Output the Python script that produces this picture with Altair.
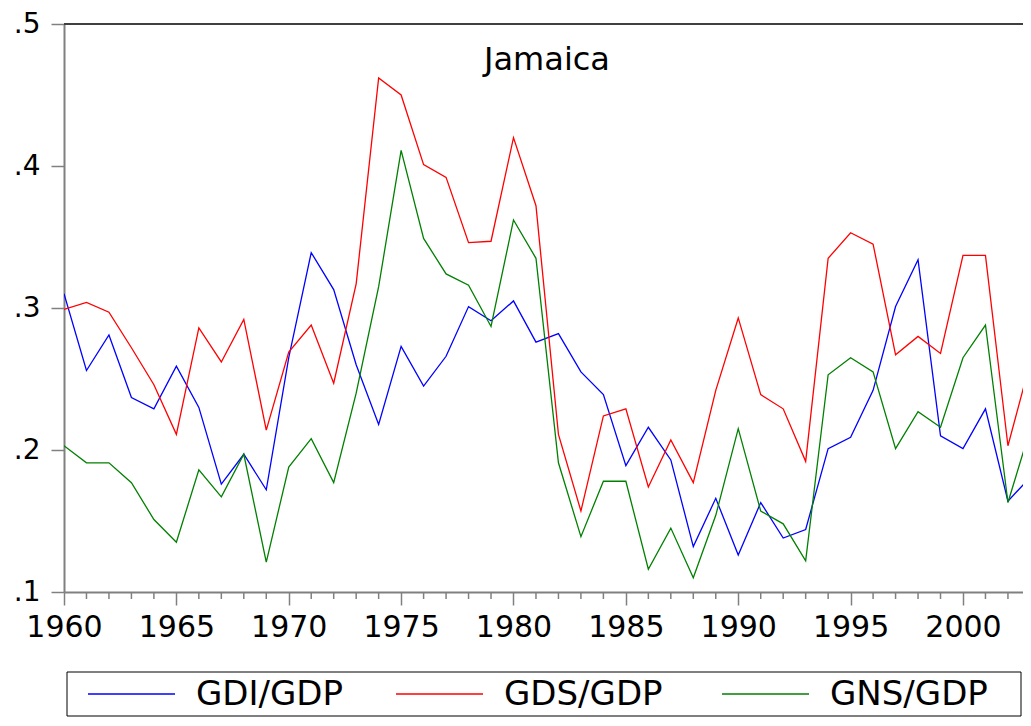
import altair as alt
import pandas as pd

years = list(range(1960, 2004))
gdi_gdp = [0.310, 0.256, 0.281, 0.237, 0.229, 0.259, 0.230, 0.176, 0.197, 0.172,
           0.265, 0.339, 0.313, 0.260, 0.218, 0.273, 0.245, 0.266, 0.301, 0.291,
           0.305, 0.276, 0.282, 0.255, 0.239, 0.189, 0.216, 0.193, 0.132, 0.166,
           0.126, 0.163, 0.138, 0.144, 0.201, 0.209, 0.242, 0.301, 0.334, 0.210,
           0.201, 0.229, 0.164, 0.181]
gds_gdp = [0.299, 0.304, 0.297, 0.272, 0.246, 0.211, 0.286, 0.262, 0.292, 0.214,
           0.269, 0.288, 0.247, 0.317, 0.462, 0.450, 0.401, 0.392, 0.346, 0.347,
           0.420, 0.372, 0.211, 0.157, 0.224, 0.229, 0.174, 0.207, 0.177, 0.242,
           0.293, 0.239, 0.229, 0.192, 0.335, 0.353, 0.345, 0.267, 0.280, 0.268,
           0.337, 0.337, 0.203, 0.262]
gns_gdp = [0.203, 0.191, 0.191, 0.177, 0.151, 0.135, 0.186, 0.167, 0.197, 0.121,
           0.188, 0.208, 0.177, 0.240, 0.315, 0.411, 0.349, 0.324, 0.316, 0.287,
           0.362, 0.335, 0.191, 0.139, 0.178, 0.178, 0.116, 0.145, 0.110, 0.154,
           0.215, 0.157, 0.148, 0.122, 0.253, 0.265, 0.255, 0.201, 0.227, 0.216,
           0.265, 0.288, 0.163, 0.215]
series_names = ["GDI/GDP", "GDS/GDP", "GNS/GDP"]
series_colors = ["#0000FF", "#FF0000", "#008000"]
title_text = "Jamaica"
y_ticks = [0.1, 0.2, 0.3, 0.4, 0.5]
x_major = list(range(1960, 2001, 5))
x_minor = [yr for yr in years if yr % 5 != 0 and yr <= 2002]

rows = []
for name, vals in zip(series_names, [gdi_gdp, gds_gdp, gns_gdp]):
    for yr, v in zip(years, vals):
        rows.append({"year": yr, "value": v, "series": name})
df = pd.DataFrame(rows)

W, H = 959, 568
FONT = "DejaVu Sans"
AX = "#808080"

x_scale = alt.Scale(domain=[1960, 2002.67], nice=False, zero=False)
y_scale = alt.Scale(domain=[0.1, 0.5], nice=False, zero=False)
color_scale = alt.Scale(domain=series_names, range=series_colors)

x_axis = alt.Axis(values=x_major, format="d", title=None, grid=False,
                  tickSize=13, tickColor=AX, tickWidth=1.5,
                  domainColor=AX, domainWidth=2,
                  labelFont=FONT, labelFontSize=30, labelColor="black",
                  labelPadding=7, labelFlush=False, labelOverlap=False)
y_axis = alt.Axis(values=y_ticks, title=None, grid=False,
                  labelExpr="replace(format(datum.value, '.1f'), '0.', '.')",
                  tickSize=13, tickColor=AX, tickWidth=1.5,
                  domainColor=AX, domainWidth=2,
                  labelFont=FONT, labelFontSize=28, labelColor="black",
                  labelPadding=11, labelOffset=0, labelFlush=False,
                  labelOverlap=False)

lines = alt.Chart(df).mark_line(strokeWidth=1.3, clip=True).encode(
    x=alt.X("year:Q", scale=x_scale, axis=x_axis),
    y=alt.Y("value:Q", scale=y_scale, axis=y_axis),
    color=alt.Color("series:N", scale=color_scale, legend=None),
)

minor = alt.Chart(pd.DataFrame({"year": x_minor})).mark_rule(
    color=AX, strokeWidth=1.5).encode(
    x=alt.X("year:Q", scale=x_scale, axis=x_axis),
    y=alt.value(H), y2=alt.value(H + 7))

top_border = alt.Chart(pd.DataFrame({"a": [0]})).mark_rule(
    color="#404040", strokeWidth=2).encode(
    x=alt.value(0), x2=alt.value(W), y=alt.value(0))

title = alt.Chart(pd.DataFrame({"t": [title_text]})).mark_text(
    font=FONT, fontSize=32, align="center", baseline="alphabetic",
    color="black").encode(text="t:N", x=alt.value(483), y=alt.value(46))

# legend drawn below the plot, inside a framed box
box_top, box_bottom = 648, 692
row_y = (box_top + box_bottom) / 2
legend_box = alt.Chart(pd.DataFrame({"a": [0]})).mark_rect(
    fill="white", stroke="black", strokeWidth=1).encode(
    x=alt.value(3), x2=alt.value(957),
    y=alt.value(box_top), y2=alt.value(box_bottom))

legend_layers = [legend_box]
entry_x = [24, 332, 658]
for i, name in enumerate(series_names):
    sx = entry_x[i]
    d = pd.DataFrame({"series": [name]})
    legend_layers.append(
        alt.Chart(d).mark_rule(strokeWidth=1.5).encode(
            x=alt.value(sx), x2=alt.value(sx + 87), y=alt.value(row_y),
            color=alt.Color("series:N", scale=color_scale, legend=None)))
    legend_layers.append(
        alt.Chart(d).mark_text(font=FONT, fontSize=34, align="left",
                               baseline="middle", color="black").encode(
            x=alt.value(sx + 108), y=alt.value(row_y + 1), text="series:N"))

chart = alt.layer(lines, minor, top_border, title, *legend_layers).properties(
    width=W, height=H,
    padding={"left": 56, "top": 16, "right": 0, "bottom": 126},
    autosize=alt.AutoSizeParams(type="none"),
).configure_view(stroke=None).configure(background="white")

chart.save("out.html", embed_options={"renderer": "svg", "actions": False})
